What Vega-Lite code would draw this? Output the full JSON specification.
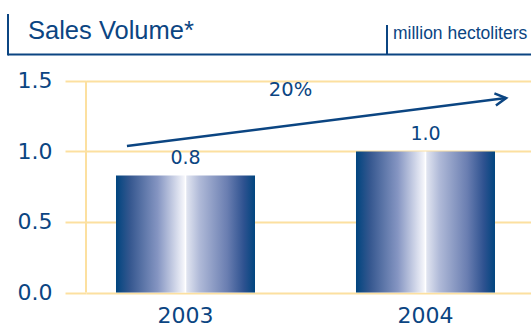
{
  "$schema": "https://vega.github.io/schema/vega-lite/v6.json",
  "width": 445,
  "height": 278.5,
  "autosize": {"type": "none"},
  "padding": {"left": 86, "top": 14, "right": 0, "bottom": 34.5},
  "background": "white",
  "config": {
    "view": {"stroke": null},
    "axisY": {"domain": false, "grid": true, "gridColor": "#fce0a0", "gridWidth": 2,
      "ticks": true, "tickSize": 21, "tickColor": "#fce0a0", "tickWidth": 2,
      "labelFont": "DejaVu Sans", "labelFontSize": 22, "labelColor": "#0b4582", "labelPadding": 13}
  },
  "layer": [
    {
      "data": {"values": [
        {"year": "2003", "volume": 0.83, "label": "0.8"},
        {"year": "2004", "volume": 1.0, "label": "1.0"}
      ]},
      "encoding": {
        "x": {"field": "year", "type": "nominal", "sort": null,
          "scale": {"paddingInner": 0.4208, "paddingOuter": 0.1375, "align": 0.4545},
          "axis": {"title": null, "domain": false, "ticks": false, "grid": false, "labelAngle": 0,
            "labelFont": "DejaVu Sans", "labelFontSize": 22, "labelColor": "#0b4582", "labelPadding": 13}},
        "y": {"field": "volume", "type": "quantitative", "title": null,
          "scale": {"domain": [0, 1.975], "nice": false, "zero": true},
          "axis": {"title": null, "values": [0, 0.5, 1, 1.5], "format": ".1f"}}
      },
      "layer": [
        {"mark": {"type": "bar", "stroke": null, "fill": {
          "gradient": "linear", "x1": 0, "y1": 0, "x2": 1, "y2": 0,
          "stops": [
            {"offset": 0, "color": "#00457f"},
            {"offset": 0.1, "color": "#35578f"},
            {"offset": 0.3, "color": "#8595c2"},
            {"offset": 0.45, "color": "#dde1ef"},
            {"offset": 0.49, "color": "#f4f5fa"},
            {"offset": 0.5, "color": "#ffffff"},
            {"offset": 0.51, "color": "#e0e4f0"},
            {"offset": 0.6, "color": "#b0bad8"},
            {"offset": 0.8, "color": "#6a7eb1"},
            {"offset": 0.92, "color": "#2e5290"},
            {"offset": 1, "color": "#00457f"}
          ]}}},
        {"mark": {"type": "text", "baseline": "alphabetic", "dy": -11, "font": "DejaVu Sans", "fontSize": 19, "color": "#0b4582"},
         "encoding": {"text": {"field": "label"}}}
      ]
    },
    {
      "data": {"values": [{"px": 0, "lo": 0, "hi": 1.5}]},
      "mark": {"type": "rule", "color": "#fce0a0", "strokeWidth": 2},
      "encoding": {
        "x": {"field": "px", "type": "quantitative", "scale": {"domain": [0, 100], "nice": false, "zero": false}, "axis": null},
        "y": {"field": "lo", "type": "quantitative", "title": null, "scale": {"domain": [0, 1.975], "nice": false}},
        "y2": {"field": "hi"}
      }
    },
    {
      "data": {"values": [
        {"px": -17.53, "px2": -17.53, "py": 1.975, "py2": 1.681},
        {"px": -17.53, "px2": 100, "py": 1.688, "py2": 1.688},
        {"px": 67.64, "px2": 67.64, "py": 1.897, "py2": 1.688}
      ]},
      "mark": {"type": "rule", "color": "#0b4582", "strokeWidth": 2},
      "encoding": {
        "x": {"field": "px", "type": "quantitative", "scale": {"domain": [0, 100], "nice": false, "zero": false}, "axis": null},
        "x2": {"field": "px2"},
        "y": {"field": "py", "type": "quantitative", "title": null, "scale": {"domain": [0, 1.975], "nice": false}},
        "y2": {"field": "py2"}
      }
    },
    {
      "data": {"values": [{"px": 9.2, "px2": 94.4, "py": 1.039, "py2": 1.379}]},
      "mark": {"type": "rule", "color": "#0b4582", "strokeWidth": 2.5},
      "encoding": {
        "x": {"field": "px", "type": "quantitative", "scale": {"domain": [0, 100], "nice": false, "zero": false}, "axis": null},
        "x2": {"field": "px2"},
        "y": {"field": "py", "type": "quantitative", "title": null, "scale": {"domain": [0, 1.975], "nice": false}},
        "y2": {"field": "py2"}
      }
    },
    {
      "data": {"values": [{"px": 94.4, "py": 1.379}]},
      "mark": {"type": "point", "shape": "M -1 -0.55 L 0 0 L -1 0.55", "filled": false, "opacity": 1,
        "stroke": "#0b4582", "strokeWidth": 2.5, "size": 484, "angle": -7.2, "strokeJoin": "miter"},
      "encoding": {
        "x": {"field": "px", "type": "quantitative", "scale": {"domain": [0, 100], "nice": false, "zero": false}, "axis": null},
        "y": {"field": "py", "type": "quantitative", "title": null, "scale": {"domain": [0, 1.975], "nice": false}}
      }
    },
    {
      "data": {"values": [{"px": 45.96, "py": 1.394, "t": "20%"}]},
      "mark": {"type": "text", "align": "center", "baseline": "alphabetic", "font": "DejaVu Sans", "fontSize": 19.5, "color": "#0b4582"},
      "encoding": {
        "x": {"field": "px", "type": "quantitative", "scale": {"domain": [0, 100], "nice": false, "zero": false}, "axis": null},
        "y": {"field": "py", "type": "quantitative", "title": null, "scale": {"domain": [0, 1.975], "nice": false}},
        "text": {"field": "t"}
      }
    },
    {
      "data": {"values": [{"px": -13.03, "py": 1.798, "t": "Sales Volume*"}]},
      "mark": {"type": "text", "align": "left", "baseline": "alphabetic", "font": "Liberation Sans", "fontSize": 25.5, "color": "#0b4582"},
      "encoding": {
        "x": {"field": "px", "type": "quantitative", "scale": {"domain": [0, 100], "nice": false, "zero": false}, "axis": null},
        "y": {"field": "py", "type": "quantitative", "title": null, "scale": {"domain": [0, 1.975], "nice": false}},
        "text": {"field": "t"}
      }
    },
    {
      "data": {"values": [{"px": 68.99, "py": 1.798, "t": "million hectoliters"}]},
      "mark": {"type": "text", "align": "left", "baseline": "alphabetic", "font": "Liberation Sans", "fontSize": 17.5, "color": "#0b4582"},
      "encoding": {
        "x": {"field": "px", "type": "quantitative", "scale": {"domain": [0, 100], "nice": false, "zero": false}, "axis": null},
        "y": {"field": "py", "type": "quantitative", "title": null, "scale": {"domain": [0, 1.975], "nice": false}},
        "text": {"field": "t"}
      }
    }
  ],
  "resolve": {"scale": {"x": "independent"}}
}
